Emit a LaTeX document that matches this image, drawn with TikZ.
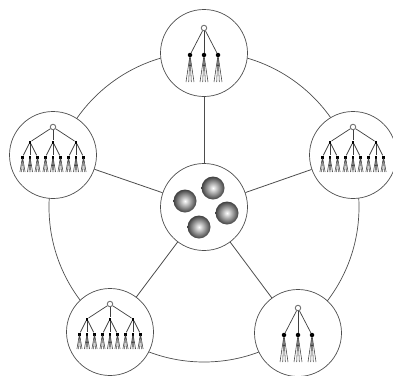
\documentclass[tikz,border=0pt]{standalone}
\usepackage{tikz}
\usetikzlibrary{positioning,shapes,arrows,calc}
\definecolor{ringgray}{HTML}{4D4D4D}
\definecolor{twiggray}{HTML}{404040}
\tikzset{
  site/.style={circle, draw=ringgray, fill=white, line width=0.7pt, minimum size=87pt, inner sep=0pt},
  ball/.style={circle, minimum size=23pt, inner sep=0pt, inner color=white, outer color=black!75},
  root/.style={circle, draw=black!55, fill=white, line width=0.9pt, minimum size=5.5pt, inner sep=0pt},
  knot/.style={circle, fill=black, minimum size=4.5pt, inner sep=0pt},
  smallknot/.style={rectangle, fill=black, minimum width=2.5pt, minimum height=3pt, inner sep=0pt},
  branch/.style={twiggray, line width=0.7pt},
  twig/.style={twiggray, line width=0.55pt}
}
% three children, four leaves below each
\newcommand{\smalltree}[1]{
  \node[root] (#1r) at ($(#1)+(0,-25)$) {};
  \foreach \i/\dx in {1/-14,2/0,3/14} {
    \node[knot] (#1c\i) at ($(#1)+(\dx,2)$) {};
    \draw[branch] (#1r) -- (#1c\i);
    \foreach \j/\ex in {1/-4,2/-1.3,3/1.3,4/4} {
      \coordinate (#1c\i l\j) at ($(#1c\i)+(\ex,27)$);
      \draw[twig] (#1c\i) -- (#1c\i l\j);
    }
  }
}
% three children, three grandchildren each, then leaves
\newcommand{\bigtree}[1]{
  \node[root] (#1r) at ($(#1)+(0,-28)$) {};
  \foreach \i/\dx in {1/-23,2/0,3/23} {
    \node[smallknot] (#1c\i) at ($(#1)+(\dx,-13)$) {};
    \draw[branch] (#1r) -- (#1c\i);
    \foreach \j/\ex in {1/-7.5,2/0,3/7.5} {
      \node[smallknot] (#1c\i g\j) at ($(#1c\i)+(\ex,15)$) {};
      \draw[branch] (#1c\i) -- (#1c\i g\j);
      \foreach \k/\fx in {1/-2.6,2/-0.9,3/0.9,4/2.6} {
        \coordinate (#1c\i g\j l\k) at ($(#1c\i g\j)+(\fx,15)$);
        \draw[twig] (#1c\i g\j) -- (#1c\i g\j l\k);
      }
    }
  }
}

\begin{document}
\begin{tikzpicture}[x=1pt,y=-1pt]
  \useasboundingbox (0,0) rectangle (393,375);
  \coordinate (middle) at (204,207);
  \draw[ringgray, line width=0.7pt] (middle) circle (155);
  % sites on the ring
  \node[site] (hub) at (middle) {};
  \node[site] (north) at (204,53) {};
  \node[site] (west) at (53,155) {};
  \node[site] (east) at (353,155) {};
  \node[site] (southwest) at (110,332) {};
  \node[site] (southeast) at (298,333) {};
  \foreach \s in {north,west,east,southwest,southeast} {
    \draw[ringgray, line width=0.8pt] (hub) -- (\s);
  }
  \node[ball] (ball1) at (213,188) {};
  \node[ball] (ball2) at (185,201) {};
  \node[ball] (ball3) at (227,213) {};
  \node[ball] (ball4) at (199,227) {};
  \smalltree{north}
  \smalltree{southeast}
  \bigtree{west}
  \bigtree{east}
  \bigtree{southwest}
\end{tikzpicture}
\end{document}
